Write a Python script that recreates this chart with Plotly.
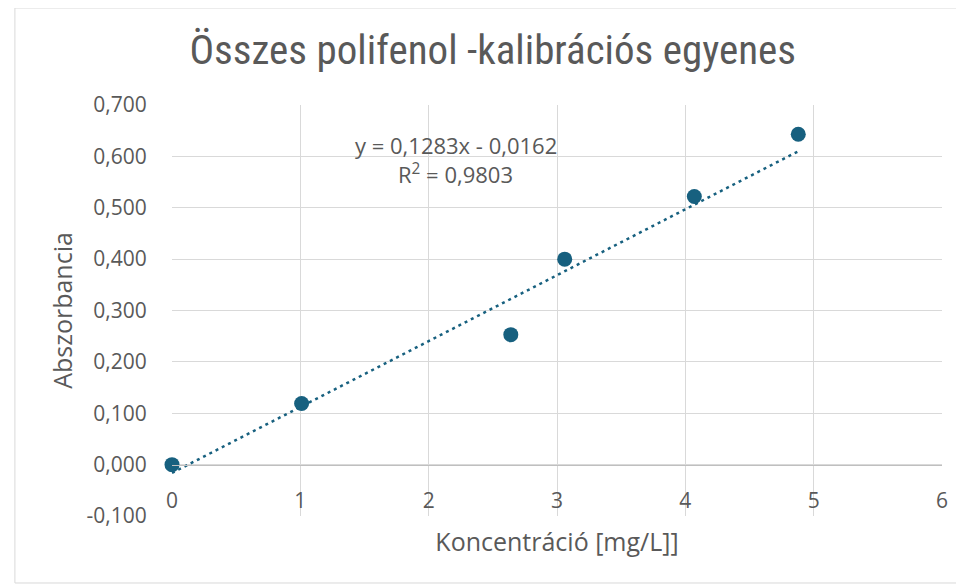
"""
Összes polifenol kalibrációs egyenes - szórásdiagram lineáris trendvonallal.
"""

import plotly.graph_objects as go

# mért adatok
koncentracio = [0.0, 1.01, 2.64, 3.06, 4.07, 4.88]
abszorbancia = [0.000, 0.119, 0.253, 0.400, 0.522, 0.643]

# trendvonal (Excel szerint)
meredekseg = 0.1283
tengelymetszet = -0.0162
r2 = 0.9803

y_tick_vals = [-0.1, 0.0, 0.1, 0.2, 0.3, 0.4, 0.5, 0.6, 0.7]
y_tick_text = ["-0,100", "0,000", "0,100", "0,200", "0,300", "0,400", "0,500", "0,600", "0,700"]
x_tick_vals = [0, 1, 2, 3, 4, 5, 6]

COLOR = "#17607f"
GRID = "#d9d9d9"
TEXT = "#595959"
FONT = "Open Sans, DejaVu Sans, sans-serif"

trend_x = [min(koncentracio), max(koncentracio)]
trend_y = [meredekseg * x + tengelymetszet for x in trend_x]

fig = go.Figure()

fig.add_trace(go.Scatter(
    x=trend_x, y=trend_y, mode="lines",
    line=dict(color=COLOR, width=2.5, dash="3px,4px"),
    hoverinfo="skip", showlegend=False
))

fig.add_trace(go.Scatter(
    x=koncentracio, y=abszorbancia, mode="markers",
    marker=dict(color=COLOR, size=15, line=dict(width=0)),
    cliponaxis=False, showlegend=False
))

# trendvonal egyenlete és R²
egyenlet = f"y = {meredekseg:.4f}x - {abs(tengelymetszet):.4f}".replace(".", ",")
r2_szoveg = f"R<sup>2</sup> = {r2:.4f}".replace(".", ",")
fig.add_annotation(
    x=2.21, y=0.622, xref="x", yref="y", text=egyenlet, showarrow=False,
    font=dict(size=22, color=TEXT, family=FONT)
)
fig.add_annotation(
    x=2.21, y=0.566, xref="x", yref="y", text=r2_szoveg, showarrow=False,
    font=dict(size=22, color=TEXT, family=FONT)
)

# külső keret
fig.add_shape(
    type="rect", xref="paper", yref="paper",
    x0=-0.204, x1=1.027, y0=-0.163, y1=1.236,
    line=dict(color=GRID, width=1), layer="below"
)

# a böngésző 8 px-es margója miatt 956x576
fig.update_layout(
    width=956, height=576,
    margin=dict(l=164, r=22, t=97, b=68),
    paper_bgcolor="white", plot_bgcolor="white",
    font=dict(family=FONT, color=TEXT),
    title=dict(
        text="Összes polifenol -kalibrációs egyenes",
        x=0.507, xanchor="center", y=0.927, yanchor="middle",
        font=dict(size=41, color=TEXT, family="Liberation Sans Narrow, Roboto Condensed, sans-serif")
    ),
    xaxis=dict(
        range=[0, 6], tickvals=x_tick_vals,
        showgrid=True, gridcolor=GRID, gridwidth=1,
        zeroline=False, showline=True, linecolor="#bfbfbf", linewidth=1,
        anchor="free", position=0.125, automargin=False,
        ticks="outside", ticklen=17, tickcolor="rgba(0,0,0,0)",
        tickfont=dict(size=21, color=TEXT),
        title=dict(text="Koncentráció [mg/L]]", font=dict(size=25, color=TEXT), standoff=20)
    ),
    yaxis=dict(
        range=[-0.1, 0.7], tickvals=y_tick_vals, ticktext=y_tick_text,
        showgrid=True, gridcolor=GRID, gridwidth=1,
        zeroline=False, showline=False, automargin=False,
        ticks="outside", ticklen=20, tickcolor="rgba(0,0,0,0)",
        tickfont=dict(size=21, color=TEXT),
        title=dict(text="Abszorbancia", font=dict(size=25, color=TEXT), standoff=6)
    ),
)

fig.write_html("out.html")
